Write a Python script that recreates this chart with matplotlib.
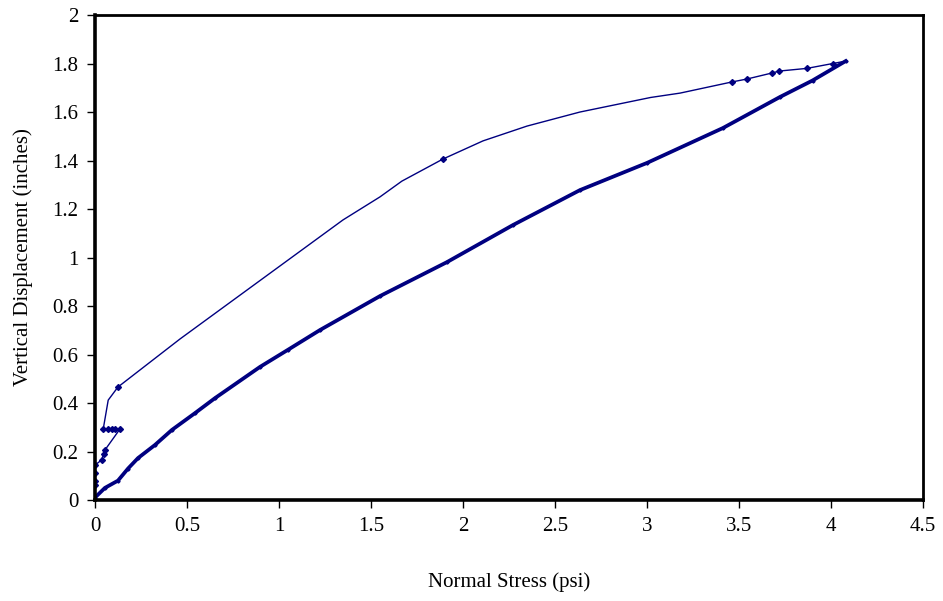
import matplotlib.pyplot as plt

# loading branch (dense data, lower curve)
load_x = [0.0, 0.054, 0.125, 0.18, 0.234, 0.326, 0.418, 0.543, 0.652, 0.897, 1.05,
          1.223, 1.549, 1.913, 2.272, 2.636, 3.0, 3.413, 3.723, 3.90, 4.08]
load_y = [0.01, 0.05, 0.08, 0.13, 0.173, 0.227, 0.289, 0.358, 0.42, 0.549, 0.62,
          0.701, 0.841, 0.981, 1.134, 1.278, 1.39, 1.534, 1.662, 1.73, 1.81]

# unloading branch (upper curve)
unload_x = [4.08, 4.01, 3.87, 3.72, 3.68, 3.543, 3.462, 3.18, 3.02, 2.636, 2.348,
            2.109, 1.891, 1.668, 1.549, 1.348, 0.462, 0.125, 0.072, 0.045, 0.136,
            0.054, 0.036, 0.0, 0.0]
unload_y = [1.81, 1.80, 1.78, 1.769, 1.761, 1.736, 1.724, 1.678, 1.66, 1.60, 1.542,
            1.481, 1.406, 1.315, 1.25, 1.155, 0.664, 0.466, 0.412, 0.293, 0.293,
            0.206, 0.165, 0.144, 0.04]

# points on the upper curve that carry a visible marker
mark_x = [4.01, 3.87, 3.72, 3.68, 3.543, 3.462, 1.891, 0.125, 0.045, 0.07, 0.09, 0.11,
          0.136, 0.054, 0.05, 0.036, 0.0, 0.0, 0.0, 0.0]
mark_y = [1.80, 1.78, 1.769, 1.761, 1.736, 1.724, 1.406, 0.466, 0.293, 0.293, 0.293,
          0.293, 0.293, 0.206, 0.19, 0.165, 0.144, 0.11, 0.08, 0.06]

navy = "#000080"

plt.rcParams["font.family"] = ["Liberation Serif", "DejaVu Serif"]

fig = plt.figure(figsize=(9.43, 6.01), dpi=100)
ax = fig.add_axes([0.1007, 0.168, 0.878, 0.807])

ax.plot(load_x, load_y, color=navy, linewidth=2.7, marker="D", markersize=1.6)
ax.plot(unload_x, unload_y, color=navy, linewidth=1.0)
ax.plot(mark_x, mark_y, linestyle="none", color=navy, marker="D", markersize=3)

ax.set_xlim(0, 4.5)
ax.set_ylim(0, 2)
ax.set_xticks([0, 0.5, 1, 1.5, 2, 2.5, 3, 3.5, 4, 4.5])
ax.set_xticklabels(["0", "0.5", "1", "1.5", "2", "2.5", "3", "3.5", "4", "4.5"])
ax.set_yticks([0, 0.2, 0.4, 0.6, 0.8, 1, 1.2, 1.4, 1.6, 1.8, 2])
ax.set_yticklabels(["0", "0.2", "0.4", "0.6", "0.8", "1", "1.2", "1.4", "1.6", "1.8", "2"])

ax.tick_params(direction="out", length=6, width=1, labelsize=15, pad=6)
ax.tick_params(top=False, right=False)
for side in ["left", "bottom"]:
    ax.spines[side].set_linewidth(2.6)
for side in ["top", "right"]:
    ax.spines[side].set_linewidth(2.0)

ax.set_xlabel("Normal Stress (psi)", fontsize=15, labelpad=26)
ax.set_ylabel("Vertical Displacement (inches)", fontsize=15, labelpad=14)

fig.savefig("out.png", dpi=100)
